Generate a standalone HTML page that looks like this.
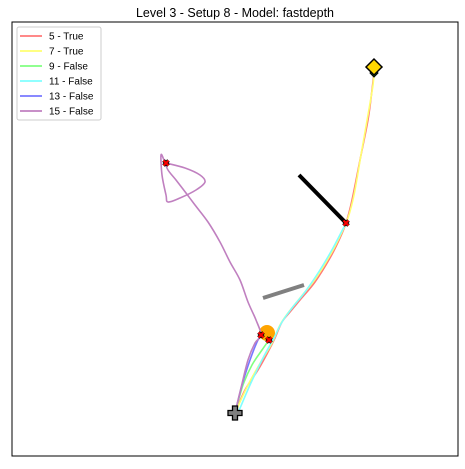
<!DOCTYPE html>
<html><head><meta charset="utf-8"><style>
html,body{margin:0;padding:0;background:#fff;width:465px;height:469px;overflow:hidden}
svg{display:block;font-family:"Liberation Sans","DejaVu Sans",sans-serif}
</style></head><body>
<svg id="chart" width="465" height="469" viewBox="0 0 465 469" xmlns="http://www.w3.org/2000/svg">
<text x="235" y="17" text-anchor="middle" font-size="12.5" fill="#000">Level 3 - Setup 8 - Model: fastdepth</text>
<rect x="12" y="22" width="446" height="434" fill="none" stroke="#000" stroke-width="1"/>
<g id="marks"></g>
<g>
<rect x="17" y="27" width="84" height="93" rx="2" fill="#fff" stroke="#ccc"/>
<g id="legend-items"></g>
</g>
</svg>
<script>
// data in axis units (x right, y up)
const seriesNames = ["5 - True","7 - True","9 - False","11 - False","13 - False","15 - False"];
const seriesColors = ["#ff7878","#ffff70","#80ff80","#80ffff","#7878ff","#c080c0"];
const s5x = [223,233,246,256,263,270,278,288,303,318,328,334,340,348,356,360,362];
const s5y = [43,66,86,104,118,134,144,156,174,198,218,233,256,296,336,366,384];
const s7x = [223,236,250,260,268,276,288,304,320,330,336,342,349,356,361,362];
const s7y = [43,71,96,113,131,143,158,178,204,224,238,261,301,341,371,384];
const s9x = [223,231,240,250,257];
const s9y = [43,71,91,106,116];
const s11x = [226,238,251,262,270,280,293,308,321,334];
const s11y = [43,71,98,118,134,148,164,186,208,233];
const s13x = [223,230,238,245,249];
const s13y = [43,71,96,114,121];
const s15x = [223,229,236,243,249,244,236,228,218,208,196,183,174,164,156,152,149,150,154,156,168,184,193,188,173,154];
const s15y = [43,68,96,113,121,136,154,176,194,214,234,251,263,276,286,296,301,281,261,254,258,266,274,281,288,293];
const seriesX = [s5x,s7x,s9x,s11x,s13x,s15x];
const seriesY = [s5y,s7y,s9y,s11y,s13y,s15y];
const startPt = [223,43];
const goalPt = [362,389];
const crashX = [334,249,257,154];
const crashY = [233,121,116,293];
const wall1 = [[287,281],[334,233]];
const wall2 = [[251,158],[292,171]];
const orbPt = [255,123];

const X = v => 12 + v;
const Y = v => 456 - v;
const NS = "http://www.w3.org/2000/svg";
const marks = document.getElementById("marks");
function mk(tag, attrs, parent){const e=document.createElementNS(NS,tag);for(const k in attrs)e.setAttribute(k,attrs[k]);(parent||marks).appendChild(e);return e;}
function smooth(px,py){
  let d=`M${px[0]},${py[0]}`;
  for(let i=0;i<px.length-1;i++){
    const x0=px[Math.max(i-1,0)],y0=py[Math.max(i-1,0)],x1=px[i],y1=py[i],x2=px[i+1],y2=py[i+1];
    const x3=px[Math.min(i+2,px.length-1)],y3=py[Math.min(i+2,px.length-1)];
    d+=` C${x1+(x2-x0)/6},${y1+(y2-y0)/6} ${x2-(x3-x1)/6},${y2-(y3-y1)/6} ${x2},${y2}`;
  }
  return d;
}

let w = mk("line",{x1:X(wall1[0][0]),y1:Y(wall1[0][1]),x2:X(wall1[1][0]),y2:Y(wall1[1][1]),stroke:"#000","stroke-width":4});


let w2 = mk("line",{x1:X(wall2[0][0]),y1:Y(wall2[0][1]),x2:X(wall2[1][0]),y2:Y(wall2[1][1]),stroke:"#808080","stroke-width":4});


let orb = mk("circle",{cx:X(orbPt[0]),cy:Y(orbPt[1]),r:8,fill:"#ffa500"});



for(let i=0;i<seriesX.length;i++){
  const p = mk("path",{d:smooth(seriesX[i].map(X),seriesY[i].map(Y)),fill:"none",stroke:seriesColors[i],"stroke-width":1.6,"stroke-linejoin":"round"});
  
  
}
for(let i=0;i<crashX.length;i++){
  const g = mk("g",{transform:`translate(${X(crashX[i])},${Y(crashY[i])})`});
  
  
  mk("path",{d:"M-2.5,-2.5L2.5,2.5M2.5,-2.5L-2.5,2.5",stroke:"#000","stroke-width":3.6},g);
  mk("path",{d:"M-2.5,-2.5L2.5,2.5M2.5,-2.5L-2.5,2.5",stroke:"#f00","stroke-width":2},g);
}
const st = mk("path",{d:"M-2.5,-7h5v4.5h4.5v5h-4.5v4.5h-5v-4.5h-4.5v-5h4.5z",fill:"#808080",stroke:"#000","stroke-width":1.3,transform:`translate(${X(startPt[0])},${Y(startPt[1])})`});


const gg = mk("path",{d:"M-4,0L0,4L4,0L0,-4z",fill:"#228b22",stroke:"#000","stroke-width":1,transform:`translate(${X(goalPt[0])},${Y(goalPt[1])+6})`});


const gd = mk("path",{d:"M-8,0L0,-8L8,0L0,8z",fill:"#ffd700",stroke:"#000","stroke-width":1.5,transform:`translate(${X(goalPt[0])},${Y(goalPt[1])})`});



const leg = document.getElementById("legend-items");
for(let i=0;i<seriesNames.length;i++){
  const yy = 36 + i*15;
  const g = mk("g",{},leg);
  
  
  mk("line",{x1:20,y1:yy,x2:42,y2:yy,stroke:seriesColors[i],"stroke-width":1.8},g);
  const t = mk("text",{x:49,y:yy+3.5,"font-size":"10",fill:"#000"},g);
  t.textContent = seriesNames[i];
}
</script>
</body></html>
